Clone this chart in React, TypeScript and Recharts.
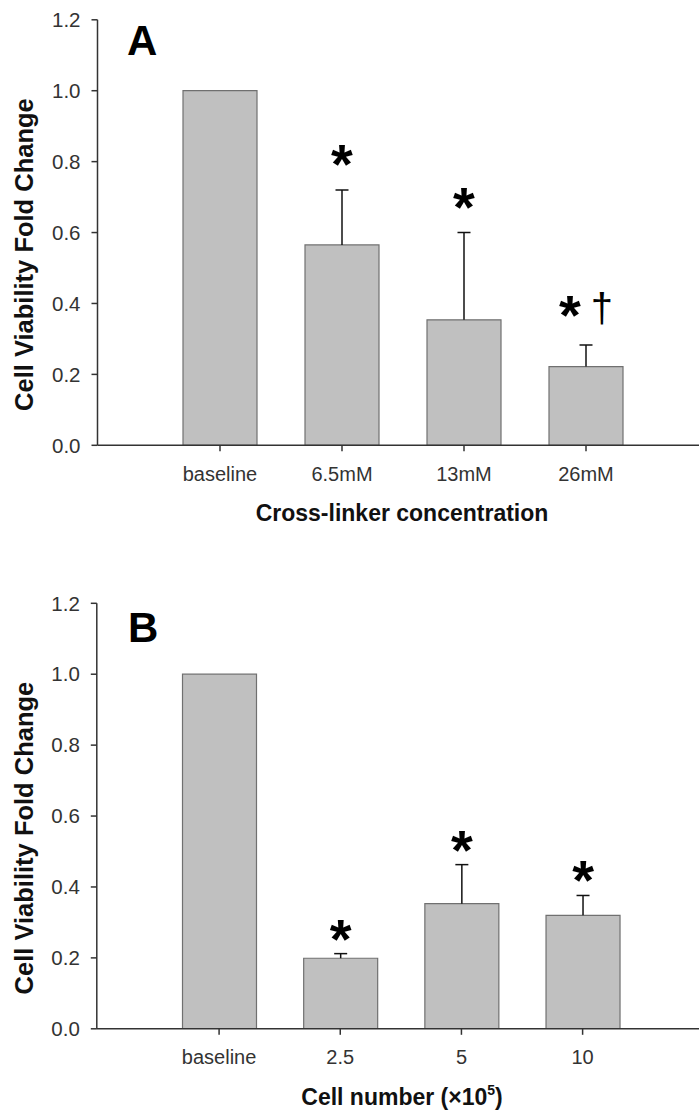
import React from "react";
import { BarChart, Bar, XAxis, YAxis, Label, LabelList } from "recharts";

// Panel A: viability vs cross-linker concentration
const crossLinkerLabels = ["baseline", "6.5mM", "13mM", "26mM"];
const crossLinkerMean = [1.0, 0.565, 0.354, 0.222];
const crossLinkerErr = [0, 0.155, 0.246, 0.061];
const crossLinkerMarks = ["", "*", "*", "*†"];

// Panel B: viability vs seeded cell number
const cellNumberLabels = ["baseline", "2.5", "5", "10"];
const cellNumberMean = [1.0, 0.199, 0.353, 0.32];
const cellNumberErr = [0, 0.013, 0.11, 0.056];
const cellNumberMarks = ["", "*", "*", "*"];

const yTicks = [0, 0.2, 0.4, 0.6, 0.8, 1.0, 1.2];

const FONT = "Arial, 'Liberation Sans', sans-serif";
const AXIS = "#333";

const build = (labels: string[], mean: number[], err: number[], marks: string[]) =>
  labels.map((name, i) => ({ name, mean: mean[i], err: err[i], mark: marks[i] }));

// upper-only error whisker drawn as a stacked segment on top of the bar
const ErrorWhisker = (props: any) => {
  const { x, y, width, height } = props;
  if (!height || height <= 0) return null;
  const cx = x + width / 2;
  return (
    <g>
      <line x1={cx} x2={cx} y1={y + height} y2={y} stroke="#111" strokeWidth={1.5} />
      <line x1={cx - 6.5} x2={cx + 6.5} y1={y} y2={y} stroke="#111" strokeWidth={1.5} />
    </g>
  );
};

const markRenderer = (lift: number) => (props: any) => {
  const { x, y, width, value } = props;
  if (!value) return null;
  const cx = x + width / 2;
  const hasDagger = String(value).includes("†");
  return (
    <text x={cx} y={y - lift - (hasDagger ? 4 : 0)} textAnchor="middle" fill="#000" fontFamily={FONT}>
      <tspan fontSize={56} fontWeight="bold">*</tspan>
      {hasDagger && (
        <tspan fontSize={40} dx={10} dy={-12}>†</tspan>
      )}
    </text>
  );
};

interface PanelProps {
  letter: string;
  data: any[];
  xTitle: React.ReactNode;
  height: number;
  top: number;
  axisWidth: number;
  pad: { left: number; right: number };
  markLift: number;
  letterX: number;
  letterY: number;
}

const Panel = ({ letter, data, xTitle, height, top, axisWidth, pad, markLift, letterX, letterY }: PanelProps) => (
  <BarChart
    width={699}
    height={height}
    data={data}
    margin={{ top, right: 0, bottom: 0, left: 0 }}
    style={{ fontFamily: FONT }}
  >
    <XAxis
      dataKey="name"
      height={height - top - 425.5}
      padding={pad}
      axisLine={{ stroke: AXIS, strokeWidth: 1.5 }}
      tickLine={{ stroke: AXIS, strokeWidth: 1.5 }}
      tickSize={6}
      tickMargin={15}
      tick={{ fontSize: 20, fill: "#333", fontFamily: FONT }}
      interval={0}
    >
      <Label
        content={({ viewBox }: any) => (
          <text
            x={402}
            y={viewBox.y + 76}
            textAnchor="middle"
            fontSize={23}
            fontWeight="bold"
            fill="#111"
            fontFamily={FONT}
          >
            {xTitle}
          </text>
        )}
      />
    </XAxis>
    <YAxis
      width={axisWidth}
      domain={[0, 1.2]}
      ticks={yTicks}
      tickFormatter={(v: number) => v.toFixed(1)}
      axisLine={{ stroke: AXIS, strokeWidth: 1.5 }}
      tickLine={{ stroke: AXIS, strokeWidth: 1.5 }}
      tickSize={6}
      tickMargin={11}
      tick={{ fontSize: 20.5, fill: "#333", fontFamily: FONT }}
      allowDataOverflow
    >
      <Label
        content={({ viewBox }: any) => {
          const cy = viewBox.y + viewBox.height / 2 + 22;
          return (
            <text
              x={24}
              y={cy}
              transform={`rotate(-90, 24, ${cy})`}
              textAnchor="middle"
              dominantBaseline="central"
              fontSize={25.5}
              fontWeight="bold"
              fill="#111"
              fontFamily={FONT}
            >
              Cell Viability Fold Change
            </text>
          );
        }}
      />
      <Label
        content={() => (
          <text x={letterX} y={letterY} fontSize={42} fontWeight="bold" fill="#000" fontFamily={FONT}>
            {letter}
          </text>
        )}
      />
    </YAxis>
    <Bar
      dataKey="mean"
      stackId="v"
      barSize={74}
      fill="#c0c0c0"
      stroke="#707070"
      strokeWidth={1.2}
      isAnimationActive={false}
    />
    <Bar dataKey="err" stackId="v" barSize={74} shape={ErrorWhisker} isAnimationActive={false}>
      <LabelList dataKey="mark" content={markRenderer(markLift)} />
    </Bar>
  </BarChart>
);

export default function App() {
  const dataA = build(crossLinkerLabels, crossLinkerMean, crossLinkerErr, crossLinkerMarks);
  const dataB = build(cellNumberLabels, cellNumberMean, cellNumberErr, cellNumberMarks);
  return (
    <div style={{ position: "absolute", left: 0, top: 0, width: 699, height: 1113, background: "#fff" }}>
      <div style={{ position: "absolute", left: 0, top: 0 }}>
        <Panel
          letter="A"
          data={dataA}
          xTitle="Cross-linker concentration"
          height={540}
          top={19.8}
          axisWidth={97.5}
          pad={{ left: 61.5, right: 52 }}
          markLift={7}
          letterX={127}
          letterY={55}
        />
      </div>
      <div style={{ position: "absolute", left: 0, top: 580 }}>
        <Panel
          letter="B"
          data={dataB}
          xTitle={
            <>
              Cell number (×10
              <tspan fontSize={14} dy={-10}>5</tspan>
              <tspan dy={10}>)</tspan>
            </>
          }
          height={533}
          top={23.3}
          axisWidth={96.8}
          pad={{ left: 61.7, right: 55.8 }}
          markLift={-4}
          letterX={128}
          letterY={62}
        />
      </div>
    </div>
  );
}
